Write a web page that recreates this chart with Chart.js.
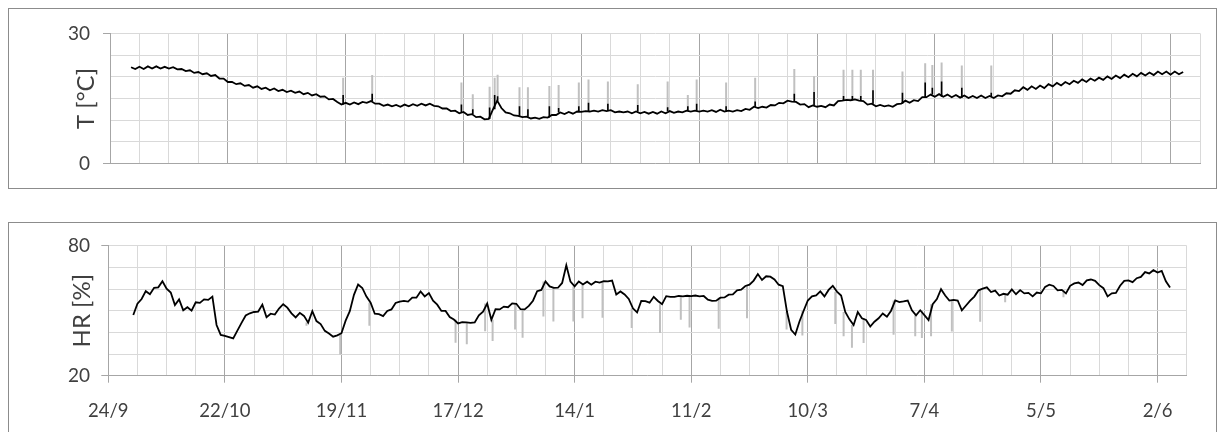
<!DOCTYPE html>
<html lang="es">
  <head>
    <meta charset="UTF-8" />
    <title>T y HR</title>
    <script src="https://cdn.jsdelivr.net/npm/chart.js"></script>
    <style>
      body {
        margin: 0;
        background: #fff;
        font-family: Lato, sans-serif;
      }
      .panel {
        position: absolute;
        left: 8px;
        width: 1207px;
        border: 1px solid #8c8c8c;
        background: #fff;
      }
      #topPanel { top: 8px; height: 179px; }
      #botPanel { top: 222px; height: 216px; }
      canvas { display: block; }
    </style>
  </head>
  <body>
    <div class="panel" id="topPanel"><canvas id="tChart" width="1207" height="179"></canvas></div>
    <div class="panel" id="botPanel"><canvas id="hrChart" width="1207" height="216"></canvas></div>

    <script>
      // days counted from 24/9; one major label every 4 weeks
      const dateLabels = ['24/9', '22/10', '19/11', '17/12', '14/1', '11/2', '10/3', '7/4', '5/5', '2/6'];
      const lastDay = 259;

      // temperature, one reading per day starting at day 5
      const tStart = 5;
      const tempValues = [
        22.2, 21.8, 22.3, 21.8, 22.4, 21.9, 22.4, 21.9, 22.3, 21.9,
        22.2, 21.7, 21.8, 21.3, 21.5, 20.9, 21.1, 20.6, 20.8, 20.2,
        20.4, 19.6, 19.6, 18.8, 18.8, 18.3, 18.5, 17.9, 18.1, 17.5,
        17.8, 17.2, 17.5, 16.9, 17.3, 16.7, 17.0, 16.5, 16.8, 16.3,
        16.6, 16.0, 16.3, 15.7, 16.0, 15.4, 15.5, 14.8, 14.9, 14.2,
        13.6, 14.0, 13.6, 14.1, 13.7, 14.2, 14.0, 14.4, 13.8, 13.8,
        13.3, 13.6, 13.2, 13.5, 13.1, 13.6, 13.2, 13.7, 13.3, 13.8,
        13.4, 13.8, 13.3, 13.2, 12.7, 12.7, 12.1, 12.2, 11.6, 11.9,
        11.2, 11.4, 10.7, 10.8, 10.2, 10.3, 12.5, 14.5, 12.8, 11.8,
        11.6, 11.1, 11.0, 10.7, 10.8, 10.4, 10.6, 10.3, 10.7, 10.6,
        11.2, 11.2, 11.8, 11.4, 11.9, 11.5, 12.0, 11.9, 12.1, 12.0,
        12.2, 12.0, 12.3, 12.1, 12.3, 11.8, 12.0, 11.8, 12.0, 11.6,
        12.0, 11.6, 11.9, 11.5, 11.9, 11.5, 12.0, 11.6, 12.1, 11.7,
        12.0, 11.8, 12.2, 12.0, 12.2, 12.0, 12.2, 12.0, 12.3, 11.9,
        12.4, 12.0, 12.2, 12.0, 12.3, 12.1, 12.6, 12.4, 13.1, 12.8,
        13.1, 12.9, 13.5, 13.4, 14.0, 13.9, 14.5, 14.3, 14.2, 13.6,
        13.7, 13.0, 13.4, 13.1, 13.3, 13.0, 13.6, 13.4, 14.4, 14.5,
        14.7, 14.6, 14.8, 14.5, 14.4, 13.6, 13.8, 13.2, 13.5, 13.2,
        13.4, 13.1, 13.7, 13.8, 14.5, 14.0, 14.6, 14.4, 15.3, 15.3,
        15.9, 15.4, 16.0, 15.4, 15.9, 15.3, 15.8, 15.2, 15.7, 15.1,
        15.6, 15.1, 15.7, 15.1, 15.6, 15.1, 15.7, 15.5, 16.2, 16.1,
        16.9, 16.7, 17.6, 17.0, 17.8, 17.2, 18.0, 17.4, 18.3, 17.8,
        18.6, 18.0, 18.8, 18.3, 19.1, 18.6, 19.4, 18.8, 19.6, 19.1,
        19.8, 19.3, 20.1, 19.5, 20.3, 19.7, 20.5, 19.9, 20.7, 20.1,
        20.9, 20.3, 21.0, 20.4, 21.2, 20.6, 21.2, 20.5, 21.2, 20.6,
        21.1
      ];
      // short peaks in temperature: day, grey peak, black peak
      const tSpikeDays = [55.4, 62.3, 83.5, 86.2, 90.2, 91.4, 92.1, 97.3, 99.3, 104.4, 106.6, 111.4, 113.7, 118.3, 125.4, 132.5,
        137.3, 139.4, 146.4, 153.3, 162.6, 167.3, 174.3, 176.4, 178.4, 181.3, 188.3, 193.7, 195.4, 197.6, 202.4, 209.4];
      const tSpikeGrey = [19.8, 20.4, 18.7, 16.0, 17.7, 19.8, 20.5, 17.6, 17.6, 17.9, 18.1, 18.7, 19.4, 18.9, 18.3, 18.9,
        15.8, 19.4, 18.7, 19.8, 21.8, 20.1, 21.6, 21.6, 21.6, 21.6, 21.2, 23.1, 22.7, 23.3, 22.6, 22.6];
      const tSpikeBlack = [15.8, 16.1, 13.6, 12.5, 12.9, 15.8, 15.5, 13.2, 12.5, 13.2, 12.8, 13.2, 14.0, 13.8, 13.5, 13.0,
        13.2, 13.8, 13.2, 14.3, 16.1, 16.5, 15.6, 15.6, 15.6, 16.9, 16.3, 18.7, 17.5, 18.9, 17.5, 16.3];

      // relative humidity, one reading per day starting at day 6
      const hrStart = 6;
      const hrValues = [
        48.0, 53.2, 55.4, 59.0, 57.6, 60.6, 60.8, 63.6, 60.2, 58.4,
        52.6, 55.2, 50.2, 51.6, 50.0, 53.9, 53.6, 55.2, 55.0, 56.5,
        43.4, 38.8, 38.4, 37.8, 37.2, 40.8, 44.4, 47.8, 48.8, 49.4,
        49.6, 52.8, 47.0, 48.6, 48.2, 51.0, 53.0, 51.4, 48.8, 46.9,
        49.0, 47.6, 44.5, 49.8, 45.2, 43.8, 40.7, 39.5, 38.0, 38.6,
        39.6, 45.4, 49.8, 57.3, 62.1, 60.5, 56.5, 53.7, 48.6, 48.4,
        47.5, 49.9, 50.6, 53.6, 54.2, 54.5, 54.2, 56.0, 56.0, 58.9,
        56.6, 58.1, 54.6, 52.8, 49.9, 49.9, 47.1, 45.9, 44.1, 44.7,
        44.6, 44.4, 44.6, 47.9, 49.6, 53.3, 45.8, 50.7, 50.6, 51.9,
        51.6, 53.4, 53.2, 50.7, 50.6, 52.2, 54.6, 59.0, 59.6, 63.5,
        61.2, 60.5, 60.6, 62.8, 71.0, 63.4, 61.2, 63.5, 62.1, 63.4,
        62.0, 63.4, 63.0, 63.6, 63.5, 63.9, 57.5, 58.9, 57.5, 55.4,
        51.1, 49.2, 54.5, 54.4, 53.7, 56.4, 54.5, 53.0, 56.7, 56.4,
        56.4, 56.8, 56.6, 56.9, 56.7, 57.0, 56.6, 56.8, 55.1, 54.5,
        54.6, 56.0, 56.1, 57.4, 57.5, 59.4, 59.7, 61.4, 62.0, 63.9,
        66.9, 64.2, 65.9, 65.7, 64.4, 62.0, 61.3, 49.5, 41.2, 39.0,
        45.0, 50.0, 54.7, 56.6, 57.1, 58.9, 56.6, 59.6, 61.5, 58.8,
        57.0, 49.4, 46.0, 43.4, 49.4, 46.5, 45.7, 42.7, 44.9, 46.5,
        48.7, 47.2, 50.0, 54.7, 54.0, 54.3, 54.7, 50.2, 47.9, 50.2,
        48.0, 45.7, 53.0, 55.4, 59.9, 57.0, 54.7, 55.0, 54.7, 50.2,
        52.4, 54.6, 56.5, 59.4, 60.2, 60.8, 58.6, 59.3, 57.0, 57.8,
        57.4, 59.8, 57.6, 59.5, 58.0, 58.2, 56.6, 58.4, 58.0, 61.0,
        62.0, 61.4, 59.4, 59.6, 58.0, 61.5, 62.6, 63.0, 61.8, 64.0,
        64.4, 63.8, 61.8, 60.4, 56.6, 58.0, 58.2, 61.5, 63.8, 64.0,
        63.2, 65.0, 65.6, 67.8, 67.2, 68.7, 67.6, 68.4, 63.6, 60.7
      ];
      // short drops in humidity: day, grey low
      const hrDipDays = [47.6, 55.7, 62.7, 83.4, 86.1, 90.5, 92.3, 97.7, 99.5, 104.5, 106.9, 111.7, 113.9, 118.7, 125.7, 132.5,
        137.5, 139.6, 146.6, 153.4, 162.9, 166.7, 174.6, 176.6, 178.6, 181.4, 188.6, 193.8, 195.4, 197.6, 202.6, 209.4, 215.4, 229.4];
      const hrDipGrey = [43.0, 29.8, 43.0, 35.2, 34.5, 40.5, 36.0, 41.3, 37.5, 47.3, 45.0, 45.0, 46.5, 46.8, 42.0, 39.7,
        45.8, 42.3, 41.7, 46.5, 41.3, 38.6, 43.9, 38.2, 32.9, 35.1, 38.9, 38.2, 37.4, 38.2, 40.4, 44.9, 53.9, 56.2];

      const tTickLabels = [0, 30];
      const hrTickLabels = [20, 80];

      const TEXT = '#404040';
      const GRID = '#d9d9d9';
      const MAJOR = '#a6a6a6';
      const SPIKE = '#c0c0c0';

      Chart.defaults.font.family = 'Lato';
      Chart.defaults.color = TEXT;

      function toPoints(values, start) {
        return values.map((v, i) => ({ x: start + i, y: v }));
      }

      // vertical strokes from the daily line to each peak
      function spikes(days, tips, values, start) {
        const pts = [];
        days.forEach((d, i) => {
          const base = values[Math.round(d) - start];
          pts.push({ x: d, y: base }, { x: d, y: tips[i] }, { x: d, y: null });
        });
        return pts;
      }

      function xScale(showLabels) {
        return {
          type: 'linear',
          min: 0,
          max: lastDay,
          border: { color: MAJOR },
          grid: {
            color: (c) => (c.tick && c.tick.value % 28 === 0 ? MAJOR : GRID),
            drawTicks: showLabels,
            tickLength: 7,
            tickColor: (c) => (c.tick && c.tick.value % 28 === 0 ? MAJOR : 'rgba(0,0,0,0)')
          },
          ticks: {
            display: showLabels,
            stepSize: 7,
            autoSkip: false,
            maxRotation: 0,
            padding: 17,
            font: { size: 18.5 },
            color: TEXT,
            callback: (v) => (v % 28 === 0 ? dateLabels[v / 28] : '')
          },
          afterFit: (s) => { s.height = showLabels ? 63.3 : 0; }
        };
      }

      function yScale(min, max, step, labels, title, width, pad) {
        return {
          min: min,
          max: max,
          border: { color: MAJOR },
          grid: {
            color: GRID,
            tickLength: 7,
            tickColor: (c) => (c.tick && labels.includes(c.tick.value) ? MAJOR : 'rgba(0,0,0,0)')
          },
          ticks: {
            stepSize: step,
            autoSkip: false,
            padding: pad,
            font: { size: 19 },
            color: TEXT,
            callback: (v) => (labels.includes(v) ? String(v) : '')
          },
          title: { display: true, text: title, font: { size: 24 }, color: TEXT, padding: { top: 4, bottom: 0 } },
          afterFit: (s) => { s.width = width; }
        };
      }

      const baseOptions = {
        responsive: false,
        animation: false,
        plugins: { legend: { display: false }, tooltip: { enabled: false } },
        elements: { point: { radius: 0 }, line: { tension: 0 } }
      };

      new Chart(document.getElementById('tChart'), {
        type: 'line',
        data: {
          datasets: [
            { data: toPoints(tempValues, tStart), borderColor: '#000', borderWidth: 1.8, order: 0 },
            { data: spikes(tSpikeDays, tSpikeBlack, tempValues, tStart), borderColor: '#000', borderWidth: 1.6, order: 1 },
            { data: spikes(tSpikeDays, tSpikeGrey, tempValues, tStart), borderColor: SPIKE, borderWidth: 2, order: 2 }
          ]
        },
        options: {
          ...baseOptions,
          layout: { padding: { left: 58.6, right: 16, top: 21, bottom: 21 } },
          scales: {
            x: xScale(false),
            y: yScale(0, 30, 5, tTickLabels, 'T [°C]', 42.4, 13)
          }
        }
      });

      new Chart(document.getElementById('hrChart'), {
        type: 'line',
        data: {
          datasets: [
            { data: toPoints(hrValues, hrStart), borderColor: '#000', borderWidth: 1.8, order: 0 },
            { data: spikes(hrDipDays, hrDipGrey, hrValues, hrStart), borderColor: SPIKE, borderWidth: 2, order: 2 }
          ]
        },
        options: {
          ...baseOptions,
          layout: { padding: { left: 55.3, right: 29.3, top: 20, bottom: 0 } },
          scales: {
            x: xScale(true),
            y: yScale(20, 80, 10, hrTickLabels, 'HR [%]', 44, 11.3)
          }
        }
      });
    </script>
  </body>
</html>
